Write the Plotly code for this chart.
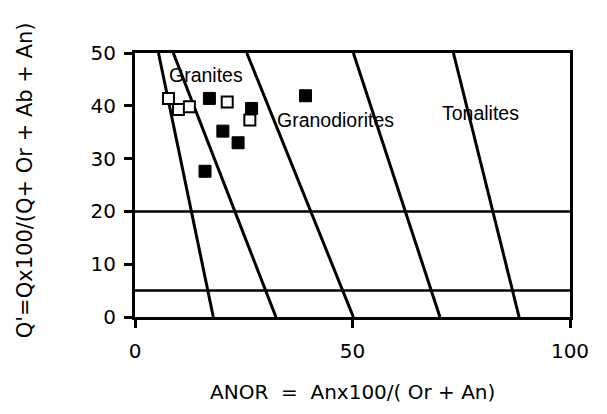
import plotly.graph_objects as go

# Field boundary lines (ANOR at Q'=50 and at Q'=0)
boundary_top_x = [5.4, 8.8, 25.7, 50.2, 73.2]
boundary_bottom_x = [18.0, 32.4, 50.2, 70.1, 88.3]
boundary_y = [50, 0]
horizontal_y = [20, 5]

# Samples
open_x = [7.7, 10.0, 12.5, 21.2, 26.4]
open_y = [41.4, 39.3, 39.8, 40.7, 37.3]
filled_x = [17.1, 26.8, 20.2, 23.7, 39.2, 16.1]
filled_y = [41.4, 39.5, 35.2, 33.0, 41.9, 27.6]

field_labels = ["Granites", "Granodiorites", "Tonalites"]
field_label_x = [16.3, 46.1, 79.5]
field_label_y = [45.8, 37.4, 38.6]

x_ticks = [0, 50, 100]
y_ticks = [0, 10, 20, 30, 40, 50]

fig = go.Figure()

for xt, xb in zip(boundary_top_x, boundary_bottom_x):
    fig.add_trace(go.Scatter(x=[xt, xb], y=boundary_y, mode="lines",
                             line=dict(color="black", width=3),
                             showlegend=False, hoverinfo="skip", cliponaxis=False))
for hy in horizontal_y:
    fig.add_trace(go.Scatter(x=[0, 100], y=[hy, hy], mode="lines",
                             line=dict(color="black", width=2.5),
                             showlegend=False, hoverinfo="skip"))

fig.add_trace(go.Scatter(x=filled_x, y=filled_y, mode="markers",
                         marker=dict(symbol="square", size=12, color="black",
                                     line=dict(color="black", width=1)),
                         showlegend=False))
fig.add_trace(go.Scatter(x=open_x, y=open_y, mode="markers",
                         marker=dict(symbol="square", size=11, color="white",
                                     line=dict(color="black", width=2)),
                         showlegend=False))

for t, x, y in zip(field_labels, field_label_x, field_label_y):
    fig.add_annotation(x=x, y=y, text=t, showarrow=False,
                       font=dict(family="Liberation Sans, Arial", size=19.5, color="black"))

fig.add_annotation(xref="paper", yref="paper", x=0.5, y=-0.284,
                   xanchor="center", yanchor="middle",
                   text="ANOR  =  Anx100/( Or + An)", showarrow=False,
                   font=dict(family="DejaVu Sans", size=20, color="black"))
fig.add_annotation(xref="paper", yref="paper", x=-0.253, y=0.518, textangle=-90,
                   xanchor="center", yanchor="middle",
                   text="Q'=Qx100/(Q+ Or + Ab + An)", showarrow=False,
                   font=dict(family="DejaVu Sans", size=21, color="black"))

fig.update_xaxes(range=[0, 100], tickvals=x_ticks, showgrid=False, zeroline=False,
                 showline=True, linecolor="black", linewidth=3, mirror=True,
                 ticks="outside", ticklen=8, tickwidth=2.5, tickcolor="black",
                 ticklabelstandoff=6,
                 tickfont=dict(family="DejaVu Sans", size=20, color="black"))
fig.update_yaxes(range=[0, 50], tickvals=y_ticks, showgrid=False, zeroline=False,
                 showline=True, linecolor="black", linewidth=3, mirror=True,
                 ticks="outside", ticklen=8, tickwidth=2.5, tickcolor="black",
                 ticklabelstandoff=4,
                 tickfont=dict(family="DejaVu Sans", size=20, color="black"))

fig.update_layout(width=607, height=414, margin=dict(l=135, r=37, t=53, b=97),
                  plot_bgcolor="white", paper_bgcolor="white")

fig.write_html("out.html")
